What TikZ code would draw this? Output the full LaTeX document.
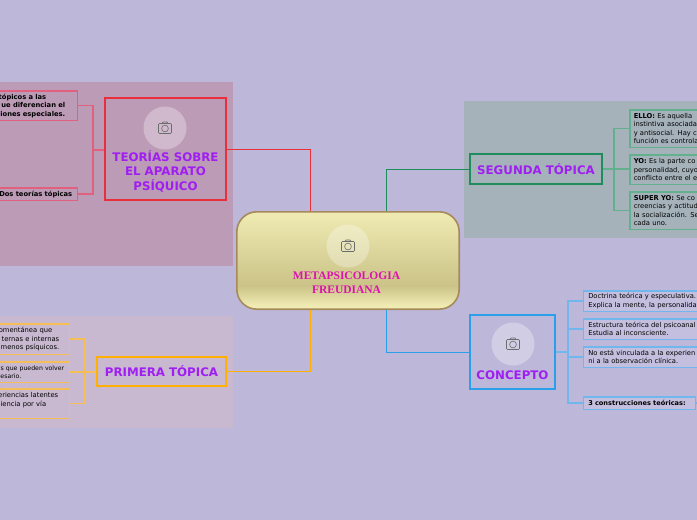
\documentclass[tikz,border=0pt]{standalone}
\usepackage{fontspec}
\setmainfont{DejaVu Sans}
\newfontfamily\titlefont{Liberation Serif}
\usepackage{tikz}
\usetikzlibrary{positioning}
\definecolor{paper}{HTML}{BDB8DA}
\definecolor{violeta}{HTML}{A01EF2}
\definecolor{rojo}{HTML}{EA2F3C}
\definecolor{verde}{HTML}{1E8C5C}
\definecolor{naranja}{HTML}{FFB000}
\definecolor{azul}{HTML}{2B9FEA}
\definecolor{claro}{HTML}{EFEBB2}
\definecolor{oscuro}{HTML}{CBC388}
\definecolor{borde}{HTML}{A68A5C}
\definecolor{fondorojo}{HTML}{BC9BB6}
\definecolor{fondonaranja}{HTML}{C8B8D0}
\definecolor{fondoverde}{HTML}{A5B2BA}
\definecolor{magenta2}{HTML}{DD10B0}
\definecolor{hojaroja}{HTML}{E0607E}
\definecolor{hojanaranja}{HTML}{F6BE55}
\definecolor{hojaverde}{HTML}{62B08E}
\definecolor{hojaazul}{HTML}{72B6EE}
\pgfdeclareverticalshading{centro}{100bp}{color(0bp)=(claro); color(27bp)=(claro); color(37bp)=(oscuro); color(75bp)=(claro); color(100bp)=(claro)}
\tikzset{
  camera/.pic = {
    \draw[gray!85!black, line width=.6pt, rounded corners=1pt] (-6.5,-4.5) rectangle (6.5,5.5);
    \draw[gray!85!black, line width=.6pt] (0,.5) circle (3.4);
    \draw[gray!85!black, line width=.6pt] (-3,-4.5) -- (-2,-6) -- (2,-6) -- (3,-4.5);
  }
}
\begin{document}
\begin{tikzpicture}[x=1pt, y=-1pt,
    box/.style = {draw, line width=1.6pt, anchor=north west, inner sep=0pt},
    photo/.style = {circle, fill=white, fill opacity=.3, minimum size=43pt, inner sep=0pt},
    title/.style = {text=violeta, font=\fontsize{11.8}{14.2}\selectfont\bfseries, align=center, inner sep=0pt},
    leaf/.style = {draw, line width=1.5pt, font=\fontsize{6.75}{8.5}\selectfont, inner sep=0pt},
    twig/.style = {line width=1.2pt}]
    \useasboundingbox (0,0) rectangle (697,520);
    \fill[paper] (0,0) rectangle (697,520);
    % panels
    \fill[fondorojo] (0,82) rectangle (233,266);
    \fill[fondonaranja] (0,316) rectangle (233,428);
    \fill[fondoverde] (464,101) rectangle (697,238);
    % main connectors
    \coordinate (cr) at (310,211);
    \coordinate (cg) at (386,211);
    \coordinate (cn) at (310,310);
    \coordinate (ca) at (386,310);
    % main boxes
    \node[box, rounded corners=20pt, draw=borde, shading=centro, minimum width=222.4pt, minimum height=97.4pt](centro) at (236,211){};
    \node[box, draw=rojo, minimum width=121.4pt, minimum height=102.4pt](teorias) at (104,97){};
    \node[box, draw=verde, minimum width=132.4pt, minimum height=30.4pt](segunda) at (469,153){};
    \node[box, draw=naranja, minimum width=129.4pt, minimum height=29.4pt](primera) at (96,356){};
    \node[box, draw=azul, minimum width=85.4pt, minimum height=74.4pt](concepto) at (469,314){};
    \draw[rojo, line width=.9pt] (teorias.east) -| (cr);
    \draw[verde, line width=.9pt] (segunda.west) -| (cg);
    \draw[naranja, line width=.9pt] (primera.east) -| (cn);
    \draw[azul, line width=.9pt] (concepto.west) -| (ca);
    \node[title, above=9pt of teorias.south]{TEORÍAS SOBRE\\EL APARATO\\PSÍQUICO};
    \node[title] at (segunda.center){SEGUNDA TÓPICA};
    \node[title] at (primera.center){PRIMERA TÓPICA};
    \node[title, above=10pt of concepto.south]{CONCEPTO};
    \node[above=16pt of centro.south, xshift=-1.5pt, align=center, inner sep=0pt, text=magenta2, font=\fontsize{11.5}{14}\selectfont\titlefont\bfseries]{METAPSICOLOGIA\\FREUDIANA};
    % photo circles
    \node[photo](p1) at (348,246){};
    \node[photo](p2) at (165,128){};
    \node[photo](p3) at (513,344){};
    \pic at (p1) {camera};
    \pic at (p2) {camera};
    \pic at (p3) {camera};
    % red leaves
    \begin{scope}[every node/.style = {leaf, draw=hojaroja, font=\fontsize{6.75}{8.5}\selectfont\bfseries, align=right, anchor=north east}]
        \node[minimum height=29.5pt, text width=100pt](r1) at (78,90){\mbox{tópicos a las\hspace{31pt}}\\\mbox{ue diferencian el\hspace{12pt}}\\\mbox{iones especiales.\hspace{12pt}}};
        \node[minimum height=12.5pt, text width=100pt](r2) at (78,187){\mbox{Dos teorías tópicas\hspace{5pt}}};
    \end{scope}
    \coordinate (rj) at (93,150);
    \draw[hojaroja, twig] (teorias.west |- rj) -- (rj);
    \draw[hojaroja, twig] (r1.east) -| (rj);
    \draw[hojaroja, twig] (r2.east) -| (rj);
    % orange leaves
    \begin{scope}[every node/.style = {leaf, draw=hojanaranja, align=right, anchor=north east}]
        \node[minimum height=30.5pt, text width=100pt](o1) at (70,323){\mbox{omentánea que\hspace{17pt}}\\\mbox{ternas e internas\hspace{10pt}}\\\mbox{menos psíquicos.\hspace{10pt}}};
        \node[minimum height=20.5pt, text width=100pt, font=\fontsize{6.2}{8.5}\selectfont](o2) at (70,361){\mbox{es que pueden volver\hspace{5pt}}\\\mbox{esario.\hspace{48pt}}};
        \node[minimum height=29.5pt, text width=100pt](o3) at (70,388){\mbox{eriencias latentes\hspace{11pt}}\\\mbox{iencia por vía\hspace{23pt}}\\ \mbox{}};
    \end{scope}
    \coordinate (oj) at (85,372);
    \draw[hojanaranja, twig] (primera.west |- oj) -- (oj);
    \draw[hojanaranja, twig] (o1.east) -| (oj);
    \draw[hojanaranja, twig] (o2.east |- oj) -- (oj);
    \draw[hojanaranja, twig] (o3.east) -| (oj);
    % green leaves
    \begin{scope}[every node/.style = {leaf, draw=hojaverde, align=left, anchor=north west, text width=100pt, inner xsep=4pt}]
        \node[minimum height=37.5pt](g1) at (629,109){\textbf{ELLO:} Es aquella\\instintiva asociada\\y antisocial. Hay c\\función es controla};
        \node[minimum height=29.5pt](g2) at (629,154){\textbf{YO:} Es la parte co\\personalidad, cuyo\\conflicto entre el e};
        \node[minimum height=37.5pt](g3) at (629,191){\textbf{SUPER YO:} Se co\\creencias y actitud\\la socialización. Se\\cada uno.};
    \end{scope}
    \coordinate (gj) at (614,169);
    \draw[hojaverde, twig] (segunda.east) -- (g2.west |- segunda.east);
    \draw[hojaverde, twig] (g1.west) -| (gj);
    \draw[hojaverde, twig] (g3.west) -| (gj);
    % blue leaves
    \begin{scope}[every node/.style = {leaf, draw=hojaazul, fill=white!10!paper, align=left, anchor=north west, text width=120pt, inner xsep=5pt}]
        \node[minimum height=20.5pt](b1) at (582.5,290){Doctrina teórica y especulativa.\\Explica la mente, la personalidad};
        \node[minimum height=20.5pt](b2) at (582.5,318){Estructura teórica del psicoanal\\Estudia al inconsciente.};
        \node[minimum height=20.5pt](b3) at (582.5,346){No está vinculada a la experien\\ni a la observación clínica.};
        \node[minimum height=12.5pt, text width=102pt, font=\fontsize{6.6}{8.5}\selectfont\bfseries](b4) at (582.5,396){3 construcciones teóricas:};
    \end{scope}
    \coordinate (bj) at (568,352);
    \coordinate (bout) at (697,403);
    \draw[hojaazul, twig] (concepto.east |- bj) -- (bj);
    \draw[hojaazul, twig] (b1.west) -| (bj);
    \draw[hojaazul, twig] (b2.west) -| (bj);
    \draw[hojaazul, twig] (b3.west) -| (bj);
    \draw[hojaazul, twig] (b4.west) -| (bj);
    \draw[hojaazul, twig] (b4.east) -- (bout);
\end{tikzpicture}
\end{document}
